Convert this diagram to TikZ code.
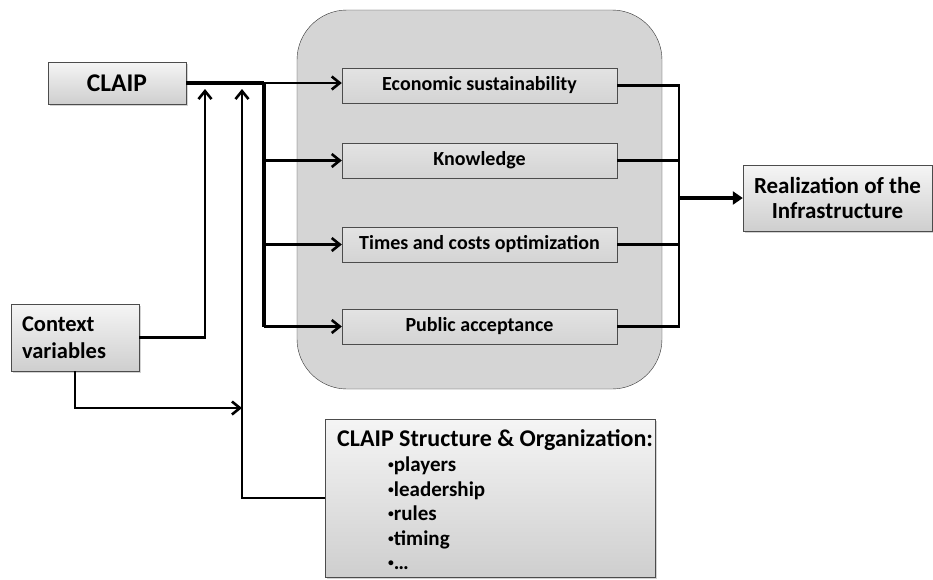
\documentclass[tikz,border=0pt]{standalone}
\usepackage{fontspec}
\setmainfont{Carlito}
\usetikzlibrary{arrows.meta,shadows}

\newcommand{\smallbullet}{\raisebox{0.3ex}{\scalebox{0.55}{\textbullet}}}

\begin{document}
\begin{tikzpicture}[x=1pt, y=-1pt,
	box/.style={draw=gray!60!black, top color=gray!8, bottom color=gray!38, drop shadow={shadow xshift=1.5pt, shadow yshift=-1.5pt, opacity=0.35}, font=\bfseries},
	inbox/.style={draw=gray!60!black, top color=gray!22, bottom color=gray!34, minimum width=275pt, minimum height=35pt, font=\bfseries\fontsize{20}{23}\selectfont},
	link/.style={line width=2.8pt},
	arr/.style={line width=2.8pt, -{Straight Barb[length=8pt, width=13pt, line width=2.6pt]}}]
	\useasboundingbox (0,0) rectangle (933,579);

	% Define the grey container with the four factors
	\draw[draw=gray!40!black, fill=gray!33, rounded corners=50pt] (297,10) rectangle (662,389);
	\node[inbox] (econ) at (479.5, 85.5) {Economic sustainability};
	\node[inbox] (know) at (479.5, 160.5) {Knowledge};
	\node[inbox] (time) at (479.5, 244.5) {Times and costs optimization};
	\node[inbox] (pub) at (479.5, 326.5) {Public acceptance};

	% Define the boxes around it
	\node[box, minimum width=138pt, minimum height=42pt, font=\bfseries\fontsize{25.5}{28}\selectfont] (claip) at (117, 83) {CLAIP};
	\node[box, text width=106pt, inner xsep=11pt, minimum height=67pt, align=left, font=\bfseries\fontsize{22.5}{27}\selectfont] (ctx) at (75, 337.5) {Context\\variables};
	\node[box, minimum width=189pt, minimum height=66pt, align=center, font=\bfseries\fontsize{23}{25}\selectfont] (real) at (837.5, 198) {Realization of the\\Infrastructure};
	\node[box, minimum width=330pt, minimum height=158pt] (struct) at (490, 498) {};
	\node[anchor=north west, inner sep=0pt, align=left, font=\bfseries\fontsize{21}{24.5}\selectfont] (structtxt) at (337, 429) {{\fontsize{24}{24}\selectfont CLAIP Structure \& Organization:}\\[1pt]
		\hspace*{51pt}\smallbullet players\\
		\hspace*{51pt}\smallbullet leadership\\
		\hspace*{51pt}\smallbullet rules\\
		\hspace*{51pt}\smallbullet timing\\
		\hspace*{51pt}\smallbullet \dots};

	% Define the junction points
	\coordinate (bus) at (264, 83);
	\coordinate (up1) at (205, 89);
	\coordinate (up2) at (242, 89);
	\coordinate (join) at (242, 408);
	\coordinate (merge) at (679, 198);

	% Draw the edges from CLAIP to the factors
	\draw[line width=3.8pt] (claip.east) -- (bus);
	\draw[line width=3.8pt] (bus) -- (bus |- pub.west);
	\draw[arr] (bus) -- (econ.west |- bus);
	\draw[arr] (bus |- know.west) -- (know.west);
	\draw[arr] (bus |- time.west) -- (time.west);
	\draw[arr] (bus |- pub.west) -- (pub.west);

	% Draw the edges of the context and the structure
	\draw[arr] (ctx.east) -| (up1);
	\draw[arr] (ctx.south) |- (join);
	\draw[arr] (struct.west) -| (up2);

	% Draw the edges to the realization
	\draw[link] (econ.east) -| (merge);
	\draw[link] (know.east) -| (merge);
	\draw[link] (time.east) -| (merge);
	\draw[link] (pub.east) -| (merge);
	\draw[line width=3.8pt, -{Triangle[length=10pt, width=13pt]}] (merge) -- (real.west);
\end{tikzpicture}
\end{document}
